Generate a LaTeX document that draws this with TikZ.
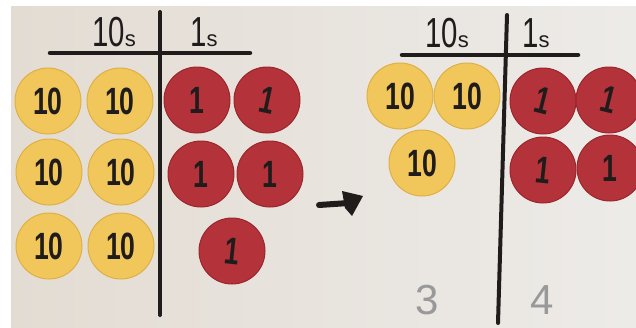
\documentclass[tikz,border=0pt]{standalone}
\usepackage{fontspec}
\setmainfont{Liberation Sans}
\usepackage{graphicx}
\usetikzlibrary{positioning, arrows.meta}

\definecolor{paperL}{RGB}{227,220,211}
\definecolor{paperR}{RGB}{237,235,232}
\definecolor{tenYel}{RGB}{241,199,92}
\definecolor{tenEdge}{RGB}{222,176,70}
\definecolor{oneRed}{RGB}{180,50,58}
\definecolor{oneEdge}{RGB}{156,38,46}
\definecolor{ink}{RGB}{32,28,28}

\newcommand{\cnum}[1]{\scalebox{0.7}[1]{#1}}

\tikzset{
  tens/.style={circle, fill=tenYel, draw=tenEdge, line width=1pt, minimum size=66pt,
    inner sep=0pt, text=ink, font=\fontsize{38}{38}\selectfont\bfseries},
  ones/.style={circle, fill=oneRed, draw=oneEdge, line width=1pt, minimum size=66pt,
    inner sep=0pt, text=ink, font=\fontsize{38}{38}\selectfont\bfseries},
  rule/.style={draw=ink, line width=4.5pt, line cap=round},
  colhead/.style={text=ink, font=\fontsize{42}{42}\selectfont},
  total/.style={text=black!40, font=\fontsize{42}{42}\selectfont}
}

\begin{document}
\begin{tikzpicture}[x=1pt, y=-1pt]
  \useasboundingbox (0,0) rectangle (636,327);
  \clip (0,0) rectangle (636,327);
  % paper
  \fill[white] (0,0) rectangle (636,327);
  \shade[left color=paperL, right color=paperR] (11,6) rectangle (636,327);

  % left chart
  \draw[rule] (50,53) -- (250,53);
  \draw[rule, line width=4pt] (160,12) -- (160,315);
  \node[colhead] (lTens) at (114,32) {\cnum{10}{\fontsize{22}{22}\selectfont s}};
  \node[colhead] (lOnes) at (204,32) {\cnum{1}{\fontsize{22}{22}\selectfont s}};

  \node[tens] (lt1) at (48,101) {\cnum{10}};
  \node[tens] (lt2) at (120,101) {\cnum{10}};
  \node[tens] (lt3) at (49,172) {\cnum{10}};
  \node[tens] (lt4) at (121,172) {\cnum{10}};
  \node[tens] (lt5) at (49,246) {\cnum{10}};
  \node[tens] (lt6) at (121,246) {\cnum{10}};

  \node[ones] (lo1) at (197,100) {\cnum{1}};
  \node[ones] (lo2) at (267,100) {\rotatebox{-12}{\cnum{1}}};
  \node[ones] (lo3) at (201,174) {\cnum{1}};
  \node[ones] (lo4) at (270,174) {\cnum{1}};
  \node[ones] (lo5) at (232,251) {\rotatebox{-6}{\cnum{1}}};

  % arrow
  \coordinate (arrA) at (319,205);
  \coordinate (arrB) at (349,203);
  \draw[rule, line width=6pt] (arrA) -- (arrB);
  \fill[ink] (342,191) -- (363,196) -- (352,216) -- (345,208) -- cycle;

  % right chart
  \draw[rule] (402,55) -- (578,55);
  \draw[rule, line width=4pt] (507,15) -- (498,323);
  \node[colhead] (rTens) at (447,33) {\cnum{10}{\fontsize{22}{22}\selectfont s}};
  \node[colhead] (rOnes) at (536,33) {\cnum{1}{\fontsize{22}{22}\selectfont s}};

  \node[tens] (rt1) at (400,96) {\cnum{10}};
  \node[tens] (rt2) at (467,96) {\cnum{10}};
  \node[tens] (rt3) at (422,163) {\cnum{10}};

  \node[ones] (ro1) at (543,101) {\rotatebox{-14}{\cnum{1}}};
  \node[ones] (ro2) at (609,100) {\rotatebox{-14}{\cnum{1}}};
  \node[ones] (ro3) at (543,170) {\rotatebox{-6}{\cnum{1}}};
  \node[ones] (ro4) at (610,168) {\cnum{1}};

  % totals
  \node[total] (rTot) at (427,300) {3};
  \node[total] (rOneTot) at (542,300) {4};
\end{tikzpicture}
\end{document}
